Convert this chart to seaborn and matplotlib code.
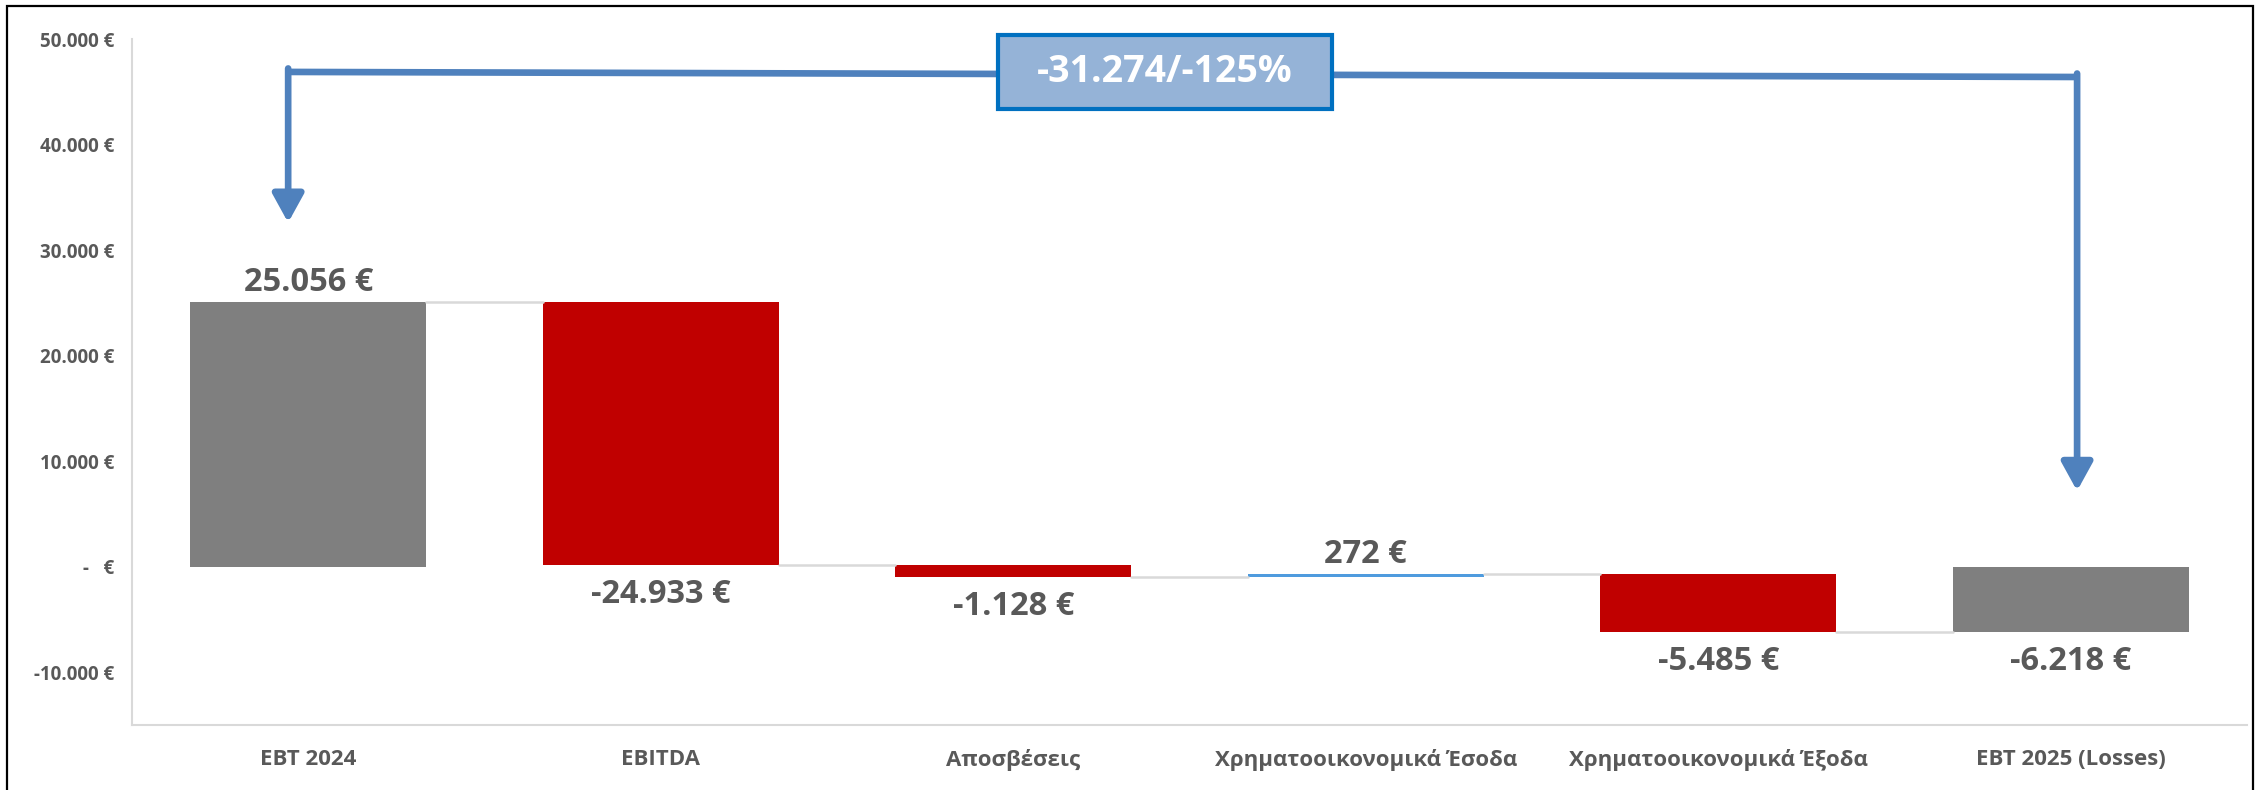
import matplotlib.pyplot as plt
import seaborn as sns
import pandas as pd
from matplotlib.patches import Rectangle

# data
categories = ["EBT 2024", "EBITDA", "Αποσβέσεις", "Χρηματοοικονομικά Έσοδα",
              "Χρηματοοικονομικά Έξοδα", "EBT 2025 (Losses)"]
changes = [25056, -24933, -1128, 272, -5485, -6218]
kinds = ["total", "delta", "delta", "delta", "delta", "total"]
value_labels = ["25.056 €", "-24.933 €", "-1.128 €", "272 €", "-5.485 €", "-6.218 €"]
y_ticks = [-10000, 0, 10000, 20000, 30000, 40000, 50000]
y_tick_labels = ["-10.000 €", "-   €", "10.000 €", "20.000 €", "30.000 €", "40.000 €", "50.000 €"]
summary_text = "-31.274/-125%"

sns.set_theme(style="white")
plt.rcParams['font.family'] = ['Open Sans', 'DejaVu Sans']
txt = "#595959"

# waterfall: bottoms from the running total
bottoms = []
ends = []
run = 0
for v, k in zip(changes, kinds):
    if k == "total":
        bottoms.append(0)
        run = v
    else:
        bottoms.append(run)
        run = run + v
    ends.append(run)

colors = []
for v, k in zip(changes, kinds):
    if k == "total":
        colors.append("#7F7F7F")
    elif v < 0:
        colors.append("#C00000")
    else:
        colors.append("#4F9BDE")

df = pd.DataFrame({"category": categories, "height": changes, "bottom": bottoms})

fig = plt.figure(figsize=(22.59, 7.9), dpi=100)
ax = fig.add_axes([132/2259, 65/790, 2115/2259, 686/790])

w = 0.67
sns.barplot(data=df, x="category", y="height", bottom=df["bottom"].to_numpy(),
            width=w, errorbar=None, color="#7F7F7F", ax=ax, linewidth=0)
for p, c in zip(ax.patches, colors):
    p.set_facecolor(c)
    p.set_edgecolor("none")

# connectors
for i in range(len(categories) - 1):
    ax.plot([i + w/2, i + 1 - w/2], [ends[i], ends[i]], color="#D9D9D9", lw=1.8, zorder=1)

# value labels
for i, (v, b, lab) in enumerate(zip(changes, bottoms, value_labels)):
    top = max(b, b + v)
    low = min(b, b + v)
    if v >= 0:
        ax.annotate(lab, (i, top), xytext=(0, 2.5), textcoords="offset points",
                    ha="center", va="bottom", fontsize=23.5, fontweight="bold", color=txt)
    else:
        ax.annotate(lab, (i, low), xytext=(0, -9), textcoords="offset points",
                    ha="center", va="top", fontsize=23.5, fontweight="bold", color=txt)

ax.set_xlim(-0.5, 5.5)
ax.set_ylim(-15000, 50000)
ax.set_yticks(y_ticks)
ax.set_yticklabels(y_tick_labels)
ax.set_xlabel("")
ax.set_ylabel("")
ax.tick_params(axis="y", length=0, pad=13, labelsize=13.5, labelcolor=txt)
ax.tick_params(axis="x", length=0, pad=17, labelsize=16, labelcolor=txt)
for lab in ax.get_xticklabels() + ax.get_yticklabels():
    lab.set_fontweight("bold")
for s in ["top", "right"]:
    ax.spines[s].set_visible(False)
for s in ["left", "bottom"]:
    ax.spines[s].set_color("#D9D9D9")
    ax.spines[s].set_linewidth(1.5)

# bracket arrow with the summary box
blue = "#4F81BD"
xl, yl = -0.057, 46880
xr, yr = 5.018, 46400
ax.plot([xl, xr], [yl, yr], color=blue, lw=4.8, solid_capstyle="butt", zorder=4)
for x0, y0, y1 in [(xl, yl, 32600), (xr, yr, 7180)]:
    ax.annotate("", xy=(x0, y1), xytext=(x0, y0 + 330),
                arrowprops=dict(arrowstyle="-|>,head_length=0.4,head_width=0.22",
                                mutation_scale=43, color=blue, lw=4.8,
                                shrinkA=0, shrinkB=0), zorder=4)

bx, by = 2.43, 46880
bw, bh = 0.948, 6994
ax.add_patch(Rectangle((bx - bw/2, by - bh/2), bw, bh, facecolor="#95B3D7",
                       edgecolor="#0070C0", lw=3, zorder=5, clip_on=False))
ax.text(bx, by, summary_text, ha="center", va="center", fontsize=27,
        fontweight="bold", color="white", zorder=6)

# outer frame
fig.patches.append(Rectangle((7/2259, -0.1), 2246/2259, 1.1 - 6/790, transform=fig.transFigure,
                             fill=False, edgecolor="black", lw=1.6))

fig.savefig("out.png", dpi=100)
